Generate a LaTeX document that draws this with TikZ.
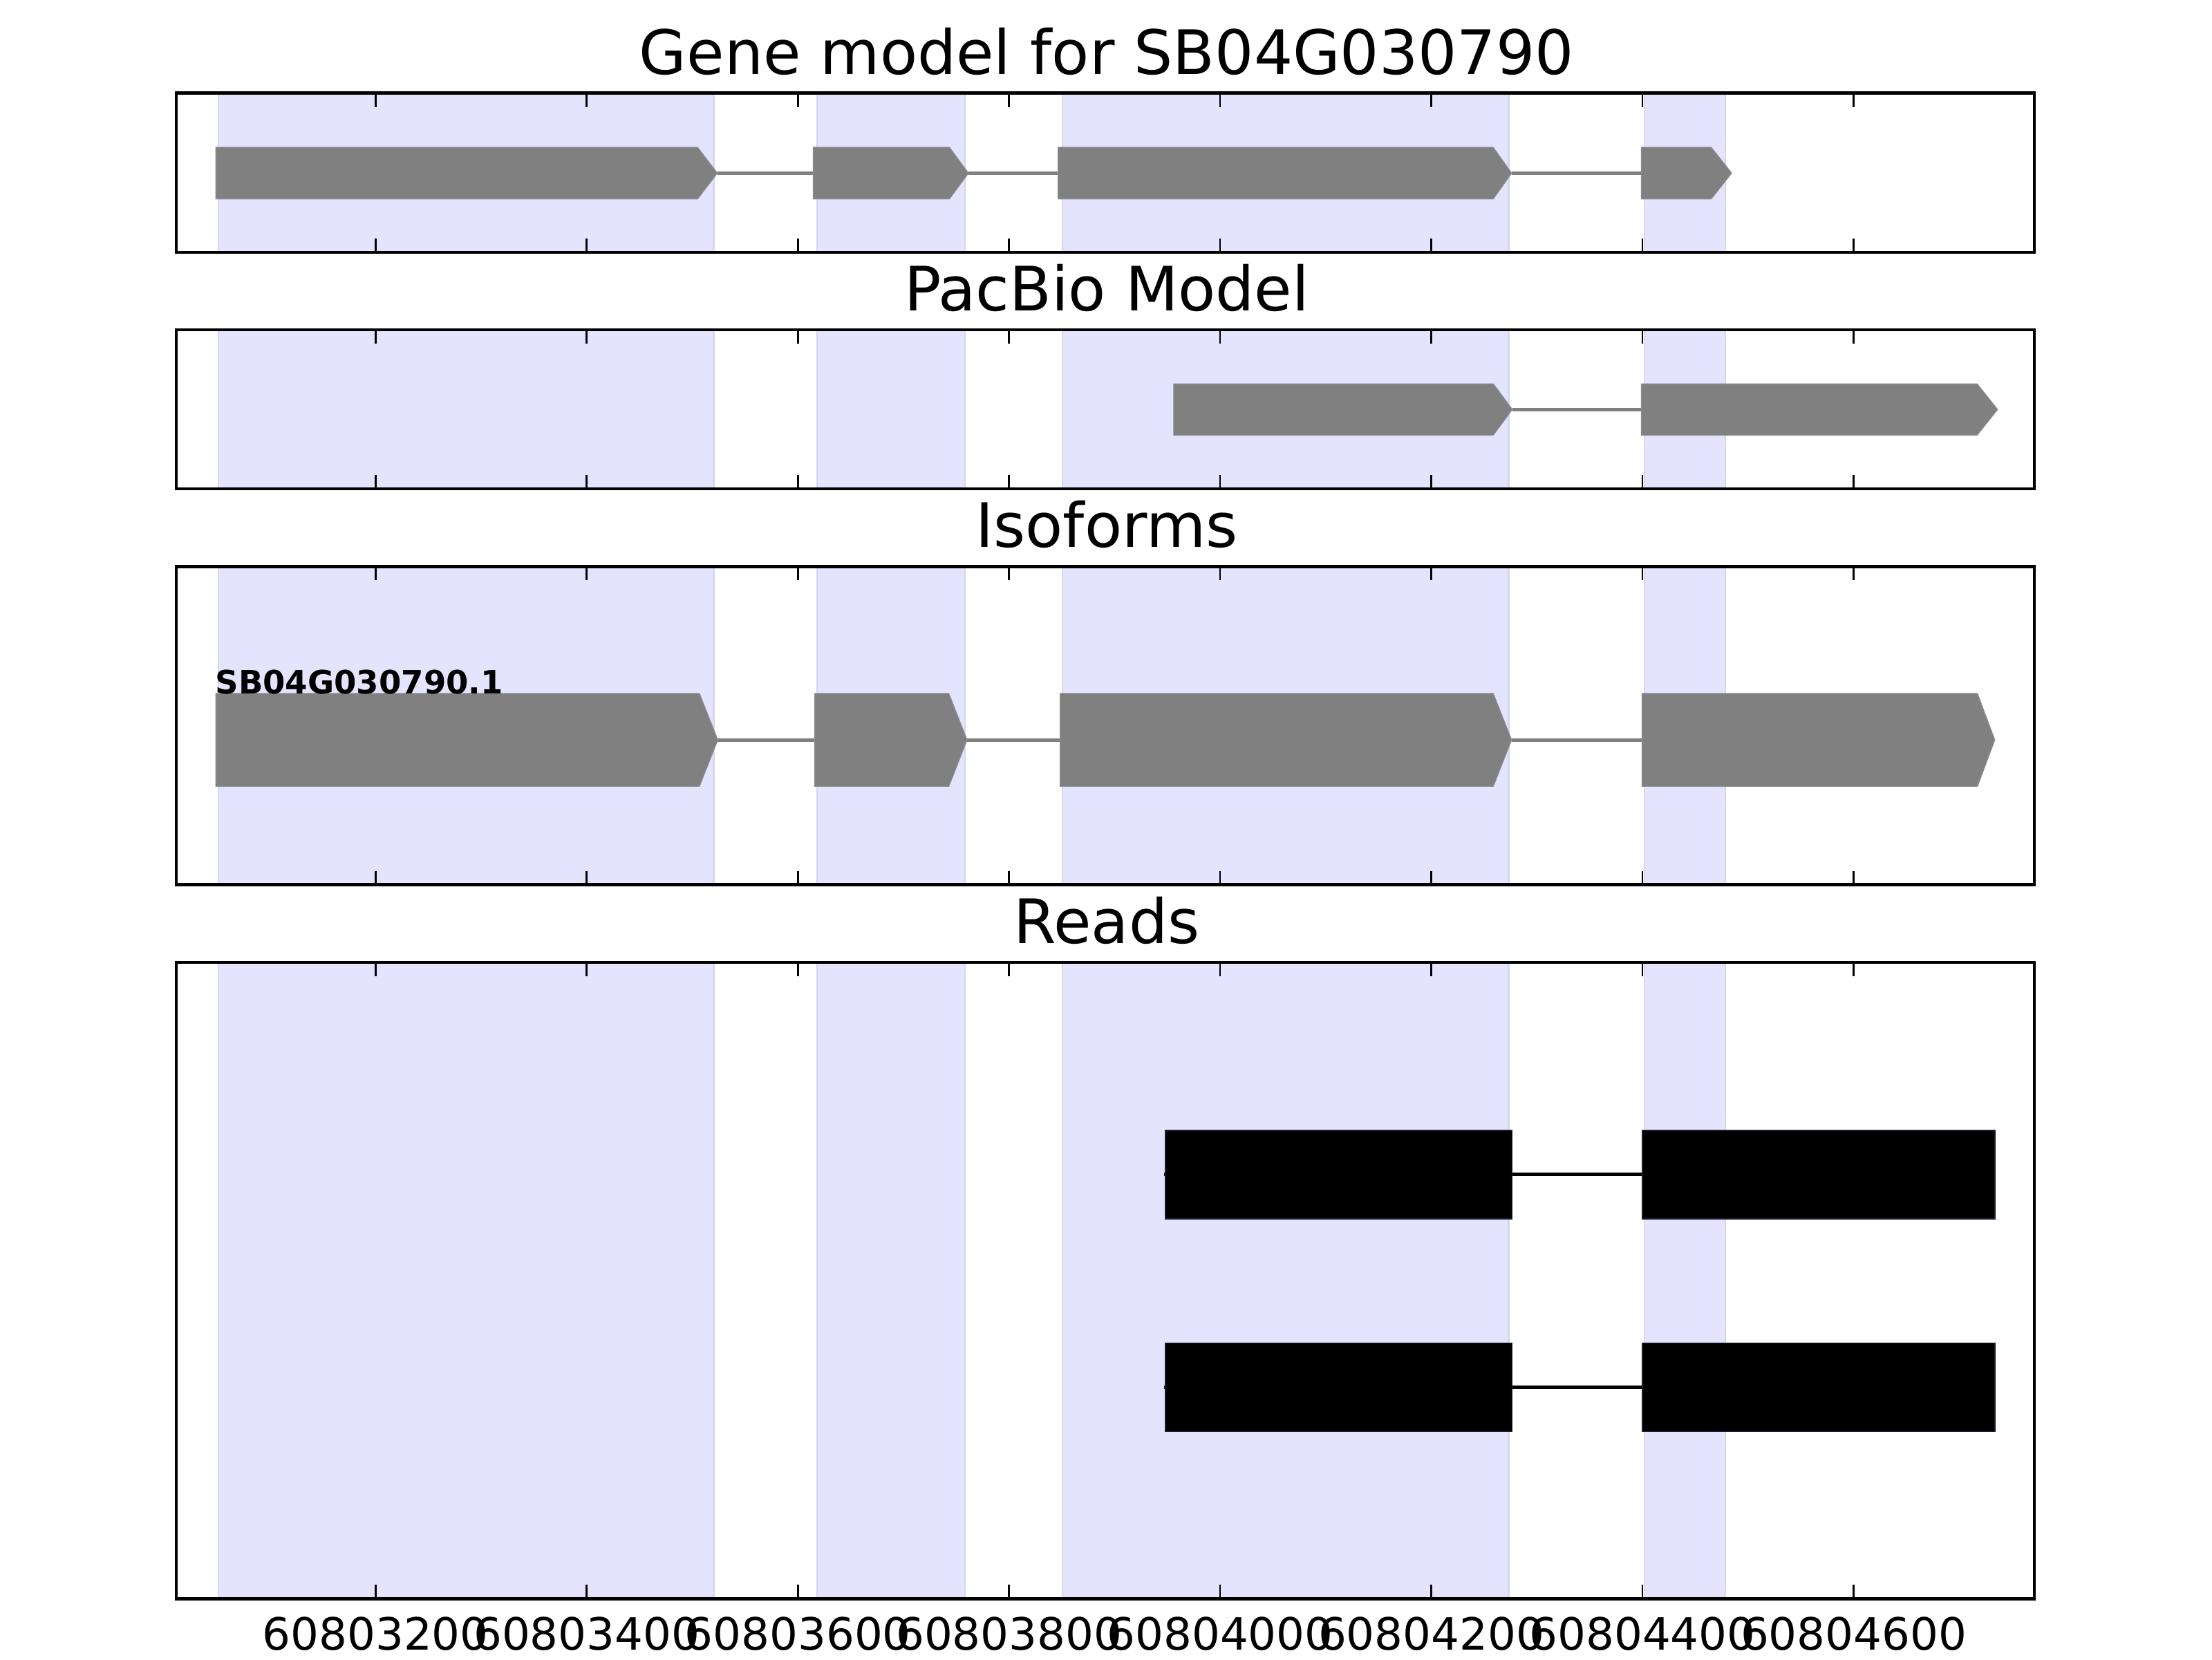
\documentclass[tikz,border=0pt]{standalone}
\usepackage{fontspec}
\setmainfont{DejaVu Sans}
\definecolor{spanfill}{RGB}{228,228,255}
\definecolor{spanedge}{RGB}{214,214,240}
\definecolor{exongray}{RGB}{128,128,128}
\definecolor{exonedge}{RGB}{140,140,146}
\begin{document}
\begin{tikzpicture}[x=1pt,y=-1pt,
  spanbox/.style={fill=spanfill},
  spanline/.style={draw=spanedge,line width=1.2pt},
  frame/.style={draw=black,line width=2.2pt},
  tickmark/.style={draw=black,line width=1.3pt},
  exonshape/.style={fill=exongray,draw=exonedge,line width=0.6pt},
  intron/.style={draw=exongray,line width=2.4pt},
  readbox/.style={fill=black,draw={rgb,255:red,30;green,30;blue,50},line width=0.8pt},
  readline/.style={draw=black,line width=2.6pt},
  titletext/.style={font=\fontsize{43.4}{50}\selectfont,inner sep=0pt,anchor=base},
  ticktext/.style={font=\fontsize{31.5}{36}\selectfont,inner sep=0pt,anchor=base},
  isotext/.style={font=\bfseries\fontsize{22.8}{26}\selectfont,inner sep=0pt,anchor=base west}
]
\useasboundingbox[fill=white] (0,0) rectangle (1568,1176);

% panels: name / top / bottom / title / title baseline
\foreach \pn/\top/\bot/\ttl/\tb in {p1/66/178.75/{Gene model for SB04G030790}/52.6,
                                    p2/233.75/346.5/{PacBio Model}/220.2,
                                    p3/401.5/627/{Isoforms}/388,
                                    p4/682/1133/{Reads}/668.5}{
  % exon shading
  \foreach \a/\b in {154.8/506, 579.2/683.9, 753/1069.4, 1165.8/1223}{
    \fill[spanbox] (\a,\top) rectangle (\b,\bot);
    \draw[spanline] (\a,\top) -- (\a,\bot);
    \draw[spanline] (\b,\top) -- (\b,\bot);
  }
  % ticks
  \foreach \x in {266.2,415.9,565.6,715.3,864.9,1014.6,1164.3,1314.0}{
    \draw[tickmark] (\x,\top) -- ++(0,9.8);
    \draw[tickmark] (\x,\bot) -- ++(0,-9.8);
  }
  \draw[frame] (125,\top) rectangle (1442,\bot);
  \node[titletext] (\pn title) at (784.5,\tb) {\ttl};
}

% ---------- Panel 1: gene model ----------
\def\yt{104.4}\def\yc{122.7}\def\yb{141}
\draw[intron] (508.5,\yc) -- (576.5,\yc);
\draw[intron] (686.5,\yc) -- (750,\yc);
\draw[intron] (1071.5,\yc) -- (1163.5,\yc);
\foreach \s/\f/\t in {153/494.5/508.5, 576.5/673/686.5, 750/1058.5/1071.5, 1163.5/1213/1227.5}{
  \filldraw[exonshape] (\s,\yt) -- (\f,\yt) -- (\t,\yc) -- (\f,\yb) -- (\s,\yb) -- cycle;
}

% ---------- Panel 2: PacBio model ----------
\def\yt{272}\def\yc{290.2}\def\yb{308.4}
\draw[intron] (1072,\yc) -- (1163.5,\yc);
\foreach \s/\f/\t in {832/1058.5/1072, 1163.5/1401.5/1416}{
  \filldraw[exonshape] (\s,\yt) -- (\f,\yt) -- (\t,\yc) -- (\f,\yb) -- (\s,\yb) -- cycle;
}

% ---------- Panel 3: isoforms ----------
\def\yt{491.5}\def\yc{524.4}\def\yb{557.3}
\draw[intron] (508.8,\yc) -- (577.5,\yc);
\draw[intron] (685.5,\yc) -- (751.5,\yc);
\draw[intron] (1071.5,\yc) -- (1164,\yc);
\foreach \s/\f/\t in {153/495.8/508.8, 577.5/672.6/685.5, 751.5/1058.5/1071.5, 1164/1401.7/1414}{
  \filldraw[exonshape] (\s,\yt) -- (\f,\yt) -- (\t,\yc) -- (\f,\yb) -- (\s,\yb) -- cycle;
}
\node[isotext] (isolabel) at (152.5,491.8) {SB04G030790.1};

% ---------- Panel 4: reads ----------
\foreach \rt/\rc/\rb in {801.2/832.4/863.7, 951.8/983.2/1014.6}{
  \draw[readline] (825,\rc) -- (1164,\rc);
  \filldraw[readbox] (826.2,\rt) rectangle (1071.9,\rb);
  \filldraw[readbox] (1164.3,\rt) rectangle (1414,\rb);
}

% ---------- x tick labels ----------
\foreach \x/\lab in {266.2/60803200,415.9/60803400,565.6/60803600,715.3/60803800,864.9/60804000,1014.6/60804200,1164.3/60804400,1314.0/60804600}{
  \node[ticktext] (tick\lab) at (\x,1169.5) {\lab};
}
\end{tikzpicture}
\end{document}
